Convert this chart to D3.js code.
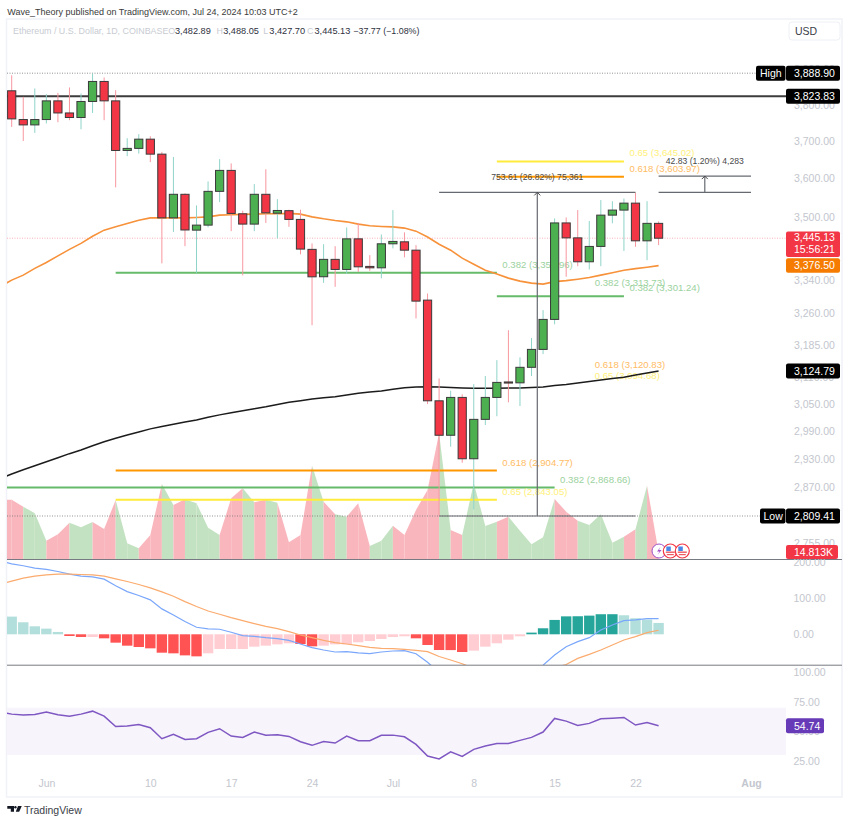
<!DOCTYPE html>
<html lang="en">
<head>
    <meta charset="UTF-8">
    <script src="https://cdnjs.cloudflare.com/ajax/libs/d3/7.8.5/d3.min.js"></script>
    <title>ETH/USD 1D</title>
    <style>
        html, body { margin: 0; background: #fff; }
        svg { display: block; }
        text { font-family: "Liberation Sans", Arial, sans-serif; }
        .tick text { fill: #c3c6ce; font-size: 10.5px; }
    </style>
</head>
<body>
    <div id="chart"></div>

    <script>
        // one entry per day, 28 May 2024 (only its tail shows at the left edge) to 24 Jul 2024
        const days = d3.utcDay.range(new Date(Date.UTC(2024, 4, 28)), new Date(Date.UTC(2024, 6, 25)));

        const openPrices = [3844, 3839, 3758.8, 3744, 3758.8, 3810.7, 3777, 3764.4, 3809, 3865.4, 3810.7, 3674.4, 3680, 3705, 3664.5, 3497, 3558, 3465.6, 3478.4, 3565.7, 3621, 3507.4, 3481, 3558, 3509, 3515.5, 3493, 3417, 3349, 3392, 3367, 3443.5, 3374.5, 3371, 3431, 3436, 3415, 3292, 3057.4, 2981, 3065, 2930, 3016, 3065, 3100, 3098, 3133.5, 3175, 3245.7, 3484, 3446, 3386, 3424.4, 3504, 3517, 3535, 3438.5, 3482.89];
        const highPrices = [3880, 3883, 3822, 3845.6, 3829.5, 3833, 3848.4, 3831.5, 3888, 3876.7, 3840.8, 3707.7, 3718.6, 3713, 3670.6, 3657, 3560.5, 3529, 3591.7, 3651, 3639.6, 3515.5, 3584.7, 3624, 3545.4, 3518, 3518, 3432, 3430, 3425, 3472.5, 3484, 3402.6, 3454.7, 3517, 3460, 3427.7, 3308, 3108, 3080, 3072, 3095, 3113.5, 3150, 3220, 3156.5, 3201.5, 3268, 3495.5, 3498, 3517, 3489, 3543, 3540, 3547, 3562, 3540, 3488.05];
        const lowPrices = [3780, 3738.6, 3700, 3722, 3748, 3751.4, 3757, 3732, 3777, 3757, 3576.1, 3659, 3666, 3643, 3382, 3461, 3425, 3358.7, 3472.5, 3537.6, 3463, 3352.3, 3463, 3484, 3444.5, 3474, 3404.5, 3232, 3334, 3324.4, 3356.7, 3361, 3363.5, 3345, 3419.5, 3397, 3248, 3050, 2809.41, 2956, 2921.5, 2823, 3003.5, 3023, 3054, 3045.6, 3113.5, 3164, 3234, 3349, 3375, 3367, 3375, 3483, 3413, 3423.5, 3390, 3427.7];
        const closePrices = [3839, 3760.6, 3744, 3758.8, 3810.7, 3777, 3764.4, 3809, 3865.4, 3810.7, 3674.4, 3680, 3705, 3664.5, 3497, 3558, 3466, 3478.4, 3565.7, 3621, 3508.4, 3481, 3558, 3510, 3516, 3493, 3417.7, 3348.8, 3392, 3367, 3443.5, 3373.5, 3371, 3431, 3437, 3415, 3289.6, 3057.4, 2981, 3065, 2930, 3016, 3065, 3099, 3097.5, 3133.5, 3175, 3245.7, 3484, 3446, 3386, 3424.4, 3504, 3517, 3535, 3438.5, 3482.9, 3445.13];
        const volumeK = [118.7, 119.3, 105.3, 92, 37.3, 50, 73.3, 64, 74.7, 60.7, 118.7, 32, 22, 48.7, 150.7, 108.7, 120, 112, 63.3, 48.7, 122, 142, 114, 119.3, 113.3, 34, 48.7, 187.3, 115.3, 90, 85.3, 112, 26.7, 37.3, 67.3, 48.7, 98.6, 138.6, 252.6, 58.7, 48.7, 152, 66.7, 75.3, 85.3, 57.3, 30, 44, 120.7, 95.3, 77.3, 68.7, 90, 33.3, 45.3, 60, 147.3, 14.813];
        const ema50 = [3325, 3340.7, 3353, 3369.6, 3384.4, 3400.8, 3417, 3432, 3450, 3465.6, 3474, 3482.7, 3491, 3497, 3497, 3497, 3497, 3498, 3499.6, 3504, 3505, 3506, 3506.6, 3507.4, 3507.4, 3508.4, 3506.6, 3499.6, 3494.5, 3490.3, 3486.8, 3481, 3476.6, 3475, 3474, 3470.8, 3463, 3448, 3430, 3415, 3395, 3380, 3365, 3355.5, 3345.6, 3338.3, 3333.4, 3331, 3337, 3339.5, 3343, 3347, 3353, 3359, 3365, 3369, 3372.6, 3376.5];
        const ema200 = [2887.7, 2897.4, 2906.5, 2915, 2923.7, 2932.3, 2941, 2949, 2958, 2967, 2974.4, 2981.6, 2988.2, 2995, 3000.4, 3005, 3010, 3014.5, 3020.5, 3026, 3030.6, 3035, 3039.6, 3044, 3049, 3054, 3057.5, 3061.3, 3064, 3066.5, 3070.4, 3074.2, 3077, 3079.4, 3083.2, 3087, 3088.5, 3089, 3088.5, 3087.3, 3086.2, 3085.5, 3085.5, 3085.5, 3086.2, 3086.2, 3087.3, 3088.5, 3092, 3094, 3097.5, 3101, 3104.3, 3107.7, 3111, 3115.8, 3120.2, 3124.79];

        const macdHist = [60, 49.3, 33.5, 22.3, 15.8, 6.5, -4.7, -7.4, -7.4, -11.2, -23.3, -31.7, -35.4, -39.1, -51.2, -53, -58.7, -61.4, -53, -41, -41, -41, -34.4, -31.7, -28, -25, -27, -33.5, -31.7, -28, -28, -22.3, -18.6, -13, -7.4, -5.6, -11.2, -29.8, -43.8, -44, -49.3, -45.6, -34.4, -25, -15, -5.6, 4.7, 16.8, 40, 50, 50.3, 52, 55.9, 56, 53, 44.7, 41, 31.7];
        const macdLine = [205, 196.4, 190.9, 184.3, 180.6, 175, 167.6, 162, 160, 153.6, 135, 119, 108, 96, 70.8, 54, 35.4, 19.6, 14.9, 14, 5.6, -3.7, -5.6, -9.3, -12, -16.8, -27, -37.2, -43.8, -49.3, -48.4, -52, -54, -49.3, -46.5, -45.6, -54, -78, -106, -116, -131, -141, -142, -143, -137, -126, -110, -86, -57.7, -34.4, -20.5, -9.3, 12, 26, 38, 40, 43.8, 43.8];
        const macdSignal = [140, 148, 156.4, 162, 165.7, 167.6, 167.6, 166.6, 165.7, 162, 154.5, 147, 138.7, 129.4, 118, 106, 91, 77.3, 65, 55.9, 46.5, 38, 29.8, 22.3, 15.8, 7.4, -1.9, -9.3, -16.8, -23.3, -27, -31.7, -36.3, -39, -40, -41.9, -44.7, -48.4, -62, -71.7, -82, -95, -108, -118, -122, -120, -115, -105, -93, -84, -67, -56, -43.8, -29.8, -15.8, -6.5, 4.7, 11.2];
        const rsiValues = [66.5, 64.5, 63.7, 64.2, 66.2, 63.9, 62.8, 64.5, 67, 62.8, 54.1, 54.4, 55.8, 53, 43.8, 47.4, 43.2, 43.8, 49.1, 52.2, 46, 44.9, 49.4, 46.8, 47.1, 45.7, 41.2, 38.2, 41.5, 40.1, 46, 42.1, 42.1, 46.6, 46.8, 45.4, 39, 29.2, 26.7, 32.8, 28.9, 34.8, 37.6, 39.8, 39.8, 42.4, 44.9, 49.4, 60.9, 58.6, 55, 56.7, 60.6, 61.1, 61.7, 55.3, 57.5, 54.74];

        // tick labels
        const priceTicks = [3900, 3800, 3700, 3600, 3500, 3420, 3340, 3260, 3185, 3110, 3050, 2990, 2930, 2870, 2755];
        const macdTicks = [200, 100, 0];
        const rsiTicks = [100, 75, 50, 25];
        const timeTickDates = [[2024, 5, 1], [2024, 5, 10], [2024, 5, 17], [2024, 5, 24], [2024, 6, 1], [2024, 6, 8], [2024, 6, 15], [2024, 6, 22], [2024, 7, 1]];
        const timeTickLabels = ["Jun", "10", "17", "24", "Jul", "8", "15", "22", "Aug"];

        // fibonacci levels: text, price, and the days each level line runs between
        const fibRatios = ["0.382", "0.382", "0.382", "0.382", "0.618", "0.618", "0.618", "0.65", "0.65", "0.65"];
        const fibPrices = [3358.96, 3313.73, 3301.24, 2868.66, 3603.97, 3120.83, 2904.77, 3645.02, 3094.68, 2843.05];
        const fibStarts = ["2024-06-07", null, "2024-07-10", "2024-05-28", "2024-07-10", null, "2024-06-07", "2024-07-10", null, "2024-06-07"];
        const fibEnds = ["2024-07-10", "2024-07-18", "2024-07-21", "2024-07-15", "2024-07-21", "2024-07-18", "2024-07-10", "2024-07-21", "2024-07-18", "2024-07-10"];

        const HIGH_PRICE = 3888.90, LOW_PRICE = 2809.41, KEY_LEVEL = 3823.83, LAST_PRICE = 3445.13;
        const MEASURE_TOP = 3563.02, SECOND_MEASURE_TOP = 3605.85;

        const legendLetters = ["O", "H", "L", "C"];
        const legendValues = ["3,482.89", "3,488.05", "3,427.70", "3,445.13"];

        const width = 850, height = 822;
        const left = 7, axisX = 786, right = 842, mainTop = 19, mainBottom = 559.3, macdBottom = 665, rsiBottom = 770, frameBottom = 797;

        const RED = "#f23645", GREEN = "#4caf50";
        const fibLine = { "0.382": "#66bb6a", "0.618": "#ff9800", "0.65": "#ffeb3b" };
        const fibText = { "0.382": "#9bd29e", "0.618": "#ffbc64", "0.65": "#fff07a" };

        const day = s => new Date(s + "T00:00:00Z");

        const x = d3.scaleUtc()
            .domain([new Date(Date.UTC(2024, 4, 29)), new Date(Date.UTC(2024, 7, 1))])
            .range([11.7, 751]);
        const y = d3.scaleLog().domain([HIGH_PRICE, LOW_PRICE]).range([73.2, 516]);
        const volY = d3.scaleLinear().domain([0, 252.6]).range([mainBottom, 433]);
        const macdY = d3.scaleLinear().domain([0, 200]).range([634.3, 562.5]);
        const rsiY = d3.scaleLinear().domain([25, 100]).range([761, 672]);

        const svg = d3.select("#chart").append("svg").attr("width", width).attr("height", height);

        // clip panes
        const defs = svg.append("defs");
        function addClip(id, top, bottom) {
            defs.append("clipPath").attr("id", id).append("rect")
                .attr("x", left).attr("y", top).attr("width", axisX - left).attr("height", bottom - top);
        }
        addClip("clipMain", mainTop, mainBottom);
        addClip("clipMacd", mainBottom, macdBottom);
        addClip("clipRsi", macdBottom, rsiBottom);

        // page header
        svg.append("text").attr("x", 7.3).attr("y", 14.5).attr("font-size", 9).attr("fill", "#3a3a3a")
            .text("Wave_Theory published on TradingView.com, Jul 24, 2024 10:03 UTC+2");

        // chart frame
        svg.append("rect").attr("x", left - 0.5).attr("y", mainTop).attr("width", right - left + 0.5).attr("height", frameBottom - mainTop)
            .attr("fill", "#fff").attr("stroke", "#f0f2f7").attr("stroke-width", 1.5);

        // legend line
        svg.append("text").attr("x", 13).attr("y", 33.8).attr("font-size", 8.9).attr("fill", "#c8cbd2")
            .text("Ethereum / U.S. Dollar, 1D, COINBASE");
        const legendLetterX = [168.3, 216.5, 263.2, 307];
        const legendValueX = [175, 223.2, 269.3, 314.5];
        legendLetters.forEach((l, i) => {
            svg.append("text").attr("x", legendLetterX[i]).attr("y", 33.8).attr("font-size", 8.9).attr("fill", "#c8cbd2").text(l);
            svg.append("text").attr("x", legendValueX[i]).attr("y", 33.8).attr("font-size", 9.2).attr("fill", "#2e3240").text(legendValues[i]);
        });
        svg.append("text").attr("x", 353.3).attr("y", 33.8).attr("font-size", 8.9).attr("fill", "#2e3240").text("\u221237.77 (\u22121.08%)");

        const main = svg.append("g").attr("clip-path", "url(#clipMain)");

        // volume area, each stretch takes the colour of the candle it leads to
        const volArea = d3.area().x(i => x(days[i])).y0(mainBottom).y1(i => volY(volumeK[i]));
        d3.range(1, days.length).forEach(i => {
            main.append("path")
                .attr("d", volArea([i - 1, i]))
                .attr("fill", closePrices[i] >= openPrices[i] ? "#c3e2c1" : "#f9b6bd");
        });

        // dotted high / low and last price lines
        [HIGH_PRICE, LOW_PRICE].forEach(p => {
            main.append("line").attr("x1", left).attr("x2", 760).attr("y1", y(p)).attr("y2", y(p))
                .attr("stroke", "#777").attr("stroke-width", 0.8).attr("stroke-dasharray", "1 1.5");
        });
        main.append("line").attr("x1", left).attr("x2", axisX).attr("y1", y(LAST_PRICE)).attr("y2", y(LAST_PRICE))
            .attr("stroke", "#f7a0a8").attr("stroke-width", 0.8).attr("stroke-dasharray", "1 1.5");
        main.append("line").attr("x1", left).attr("x2", axisX).attr("y1", y(KEY_LEVEL)).attr("y2", y(KEY_LEVEL))
            .attr("stroke", "#3c3c3c").attr("stroke-width", 2);

        // fibonacci levels
        fibPrices.forEach((p, i) => {
            if (fibStarts[i]) {
                main.append("line")
                    .attr("x1", x(day(fibStarts[i]))).attr("x2", x(day(fibEnds[i])))
                    .attr("y1", y(p)).attr("y2", y(p))
                    .attr("stroke", fibLine[fibRatios[i]]).attr("stroke-width", 2);
            }
            main.append("text")
                .attr("x", x(day(fibEnds[i])) + 5.5).attr("y", y(p) - 5)
                .attr("font-size", 9.6).attr("fill", fibText[fibRatios[i]])
                .text(`${fibRatios[i]} (${d3.format(",.2f")(p)})`);
        });

        // moving averages
        const priceLine = d3.line().x((d, i) => x(days[i])).y(d => y(d));
        main.append("path").attr("d", priceLine(ema200)).attr("fill", "none").attr("stroke", "#1c1c1c").attr("stroke-width", 1.5);
        main.append("path").attr("d", priceLine(ema50)).attr("fill", "none").attr("stroke", "#f7913a").attr("stroke-width", 1.6);

        // candles
        const candles = main.selectAll("g.candle").data(days).enter().append("g").attr("class", "candle");
        candles.append("line")
            .attr("x1", d => x(d)).attr("x2", d => x(d))
            .attr("y1", (d, i) => y(highPrices[i])).attr("y2", (d, i) => y(lowPrices[i]))
            .attr("stroke", (d, i) => closePrices[i] >= openPrices[i] ? "#8fd4c8" : "#f8969f")
            .attr("stroke-width", 1);
        candles.append("rect")
            .attr("x", d => x(d) - 4.1)
            .attr("width", 8.2)
            .attr("y", (d, i) => y(Math.max(openPrices[i], closePrices[i])))
            .attr("height", (d, i) => Math.abs(y(openPrices[i]) - y(closePrices[i])))
            .attr("fill", (d, i) => closePrices[i] >= openPrices[i] ? GREEN : RED)
            .attr("stroke", "#3a3a3a").attr("stroke-width", 1);

        // price range measures
        const measureColor = "#666a70";
        function measure(startDay, endDay, topPrice, bottomPrice, label) {
            const x1 = x(day(startDay)), x2 = x(day(endDay)), xm = (x1 + x2) / 2;
            const yTop = y(topPrice), yBottom = y(bottomPrice);
            [yTop, yBottom].forEach(v => {
                main.append("line").attr("x1", x1).attr("x2", x2).attr("y1", v).attr("y2", v)
                    .attr("stroke", measureColor).attr("stroke-width", 1.2);
            });
            main.append("line").attr("x1", xm).attr("x2", xm).attr("y1", yTop).attr("y2", yBottom)
                .attr("stroke", measureColor).attr("stroke-width", 1.2);
            main.append("path").attr("d", `M${xm - 3},${yTop + 3}L${xm},${yTop}L${xm + 3},${yTop + 3}`)
                .attr("fill", "none").attr("stroke", "#444").attr("stroke-width", 1);
            main.append("text").attr("x", xm).attr("y", yTop - 12.3).attr("text-anchor", "middle")
                .attr("font-size", 8.6).attr("fill", "#4a4a4a").text(label);
        }
        measure("2024-07-05", "2024-07-22", MEASURE_TOP, LOW_PRICE, "753.61 (26.82%) 75,361");
        measure("2024-07-24", "2024-08-01", SECOND_MEASURE_TOP, MEASURE_TOP, "42.83 (1.20%) 4,283");

        // macd pane
        const macd = svg.append("g").attr("clip-path", "url(#clipMacd)");
        macd.selectAll("rect").data(days).enter().append("rect")
            .attr("x", d => x(d) - 5.2)
            .attr("width", 10.4)
            .attr("y", (d, i) => macdHist[i] >= 0 ? macdY(macdHist[i]) : macdY(0))
            .attr("height", (d, i) => Math.abs(macdY(macdHist[i]) - macdY(0)))
            .attr("fill", (d, i) => {
                const v = macdHist[i], prev = i > 0 ? macdHist[i - 1] : v;
                if (v >= 0) return v >= prev ? "#26a69a" : "#b2dfdb";
                return v < prev ? "#ff5252" : "#ffcdd2";
            });
        const macdPath = d3.line().x((d, i) => x(days[i])).y(d => macdY(d));
        macd.append("path").attr("d", macdPath(macdLine)).attr("fill", "none").attr("stroke", "#7aa7fb").attr("stroke-width", 1.2);
        macd.append("path").attr("d", macdPath(macdSignal)).attr("fill", "none").attr("stroke", "#fbab6e").attr("stroke-width", 1.2);

        // rsi pane
        svg.append("rect").attr("x", left).attr("width", axisX - left)
            .attr("y", rsiY(70)).attr("height", rsiY(30) - rsiY(70))
            .attr("fill", "#f7f4fc");
        const rsiPath = d3.line().x((d, i) => x(days[i])).y(d => rsiY(d));
        svg.append("g").attr("clip-path", "url(#clipRsi)")
            .append("path").attr("d", rsiPath(rsiValues)).attr("fill", "none").attr("stroke", "#7e57c2").attr("stroke-width", 1.5);

        // pane dividers
        [mainBottom, macdBottom].forEach(v => {
            svg.append("line").attr("x1", left).attr("x2", right).attr("y1", v + 0.2).attr("y2", v + 0.2)
                .attr("stroke", "#777a82").attr("stroke-width", 1);
        });

        // axes
        function drawAxis(axis, translate) {
            const g = svg.append("g").attr("transform", translate).call(axis);
            g.select(".domain").remove();
            return g;
        }
        drawAxis(d3.axisRight(y).tickValues(priceTicks).tickFormat(d3.format(",.2f")).tickSize(0).tickPadding(8), `translate(${axisX},0)`);
        drawAxis(d3.axisRight(macdY).tickValues(macdTicks).tickFormat(d3.format(".2f")).tickSize(0).tickPadding(7.5), `translate(${axisX},0)`);
        drawAxis(d3.axisRight(rsiY).tickValues(rsiTicks).tickFormat(d3.format(".2f")).tickSize(0).tickPadding(7.5), `translate(${axisX},0)`);

        const timeTicks = timeTickDates.map(d => new Date(Date.UTC(d[0], d[1], d[2])));
        const timeAxis = drawAxis(d3.axisBottom(x).tickValues(timeTicks).tickFormat((d, i) => timeTickLabels[i]).tickSize(0).tickPadding(0), "translate(0,780)");
        timeAxis.selectAll("text").attr("font-weight", (d, i) => timeTickLabels[i] === "Aug" ? 600 : 400);

        // value tags on the price scale
        function tag(xStart, yMid, w, h, fill, label, fontSize) {
            svg.append("rect").attr("x", xStart).attr("y", yMid - h / 2).attr("width", w).attr("height", h)
                .attr("rx", 2).attr("fill", fill);
            svg.append("text").attr("x", xStart + 8).attr("y", yMid + 3.8).attr("font-size", fontSize || 10.5).attr("fill", "#fff").text(label);
        }
        tag(756, y(HIGH_PRICE), 29.5, 15, "#000", "");
        svg.append("text").attr("x", 760).attr("y", y(HIGH_PRICE) + 3.8).attr("font-size", 10.5).attr("fill", "#fff").text("High");
        tag(786, y(HIGH_PRICE), 54, 15, "#000", "3,888.90");
        tag(786, y(KEY_LEVEL), 54, 15, "#000", "3,823.83");
        tag(760, y(LOW_PRICE), 25.5, 15, "#000", "");
        svg.append("text").attr("x", 763.5).attr("y", y(LOW_PRICE) + 3.8).attr("font-size", 10.5).attr("fill", "#fff").text("Low");
        tag(786, y(LOW_PRICE), 54, 15, "#000", "2,809.41");
        tag(786, y(3124.79), 54, 15, "#000", "3,124.79");
        tag(786, 244.3, 54, 25.5, RED, "");
        svg.append("text").attr("x", 794).attr("y", 241.2).attr("font-size", 10.5).attr("fill", "#fff").text("3,445.13");
        svg.append("text").attr("x", 794).attr("y", 252.8).attr("font-size", 10.5).attr("fill", "#fff").text("15:56:21");
        tag(786, y(3376.50), 54, 14.5, "#f57c00", "3,376.50");
        tag(786, volY(14.813), 52, 14, RED, "14.813K");
        tag(786, rsiY(54.74), 38, 15, "#673ab7", "54.74");

        // USD button
        svg.append("rect").attr("x", 789).attr("y", 22).attr("width", 51).attr("height", 18).attr("rx", 3)
            .attr("fill", "#fff").attr("stroke", "#eef0f5");
        svg.append("text").attr("x", 795).attr("y", 35).attr("font-size", 10.5).attr("fill", "#3a3d47").text("USD");

        // event icons on the time line
        const iconY = 551;
        svg.append("circle").attr("cx", 659).attr("cy", iconY).attr("r", 7)
            .attr("fill", "#fff").attr("stroke", "#a04fc6").attr("stroke-width", 1);
        svg.append("path").attr("d", `M660.5,${iconY - 4}L657,${iconY + 0.5}H659.5L657.5,${iconY + 4}L661.5,${iconY - 1}H659Z`).attr("fill", "#a04fc6");
        [670.3, 682.3].forEach(cx => {
            const g = svg.append("g");
            g.append("circle").attr("cx", cx).attr("cy", iconY).attr("r", 7).attr("fill", "#fff").attr("stroke", RED).attr("stroke-width", 1.2);
            g.append("rect").attr("x", cx - 4.5).attr("y", iconY + 0.5).attr("width", 9).attr("height", 1.4).attr("fill", "#ef5a63");
            g.append("rect").attr("x", cx - 3.5).attr("y", iconY + 3).attr("width", 7).attr("height", 1.2).attr("fill", "#ef5a63");
            g.append("rect").attr("x", cx - 4).attr("y", iconY - 4.5).attr("width", 4.5).attr("height", 4.5).attr("fill", "#4a86e8");
        });

        // footer logo
        svg.append("path").attr("d", "M7.3,806H14V811.7H10.8V808.7H7.3Z").attr("fill", "#131722");
        svg.append("circle").attr("cx", 15.4).attr("cy", 807.2).attr("r", 1.2).attr("fill", "#131722");
        svg.append("path").attr("d", "M18,806H21.8L19.2,811.7H15.8Z").attr("fill", "#131722");
        svg.append("text").attr("x", 24).attr("y", 814).attr("font-size", 10.5).attr("fill", "#3a3d47").text("TradingView");
    </script>
</body>
</html>
